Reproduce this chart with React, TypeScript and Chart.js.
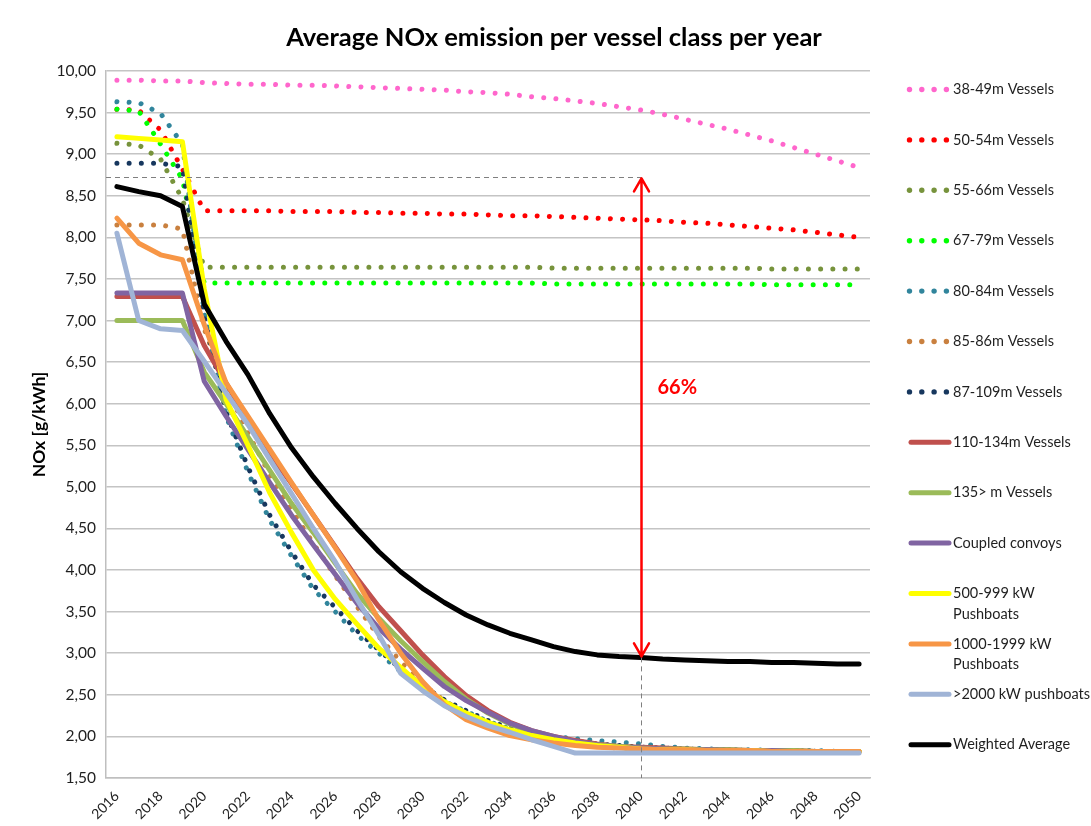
import React, { useEffect, useRef } from 'react';
import { Chart, registerables } from 'chart.js';

Chart.register(...registerables);

const YEARS = [
  '2016', '2017', '2018', '2019', '2020', '2021', '2022', '2023', '2024', '2025',
  '2026', '2027', '2028', '2029', '2030', '2031', '2032', '2033', '2034', '2035',
  '2036', '2037', '2038', '2039', '2040', '2041', '2042', '2043', '2044', '2045',
  '2046', '2047', '2048', '2049', '2050',
];

const TITLE = 'Average NOx emission per vessel class per year';
const Y_TITLE = 'NOx [g/kWh]';
const Y_MIN = 1.5;
const Y_MAX = 10;
const Y_STEP = 0.5;

// Annotation: reference level, year of the arrow and its label
const REF_LEVEL = 8.72;
const REF_YEAR = '2040';
const REDUCTION_LABEL = '66%';

const V_38_49 = [9.89, 9.89, 9.88, 9.88, 9.86, 9.85, 9.84, 9.84, 9.83, 9.83, 9.82, 9.81, 9.80, 9.79, 9.78, 9.77, 9.75, 9.74, 9.72, 9.69, 9.67, 9.64, 9.61, 9.57, 9.53, 9.48, 9.42, 9.36, 9.30, 9.23, 9.16, 9.08, 9.00, 8.92, 8.84];
const V_50_54 = [9.54, 9.53, 9.29, 8.82, 8.32, 8.32, 8.32, 8.32, 8.31, 8.31, 8.31, 8.30, 8.30, 8.29, 8.29, 8.28, 8.28, 8.27, 8.26, 8.26, 8.25, 8.24, 8.23, 8.22, 8.21, 8.20, 8.18, 8.17, 8.15, 8.13, 8.11, 8.09, 8.06, 8.03, 8.00];
const V_55_66 = [9.13, 9.11, 8.94, 8.46, 7.64, 7.64, 7.64, 7.64, 7.64, 7.64, 7.64, 7.64, 7.64, 7.64, 7.64, 7.64, 7.64, 7.64, 7.64, 7.64, 7.63, 7.63, 7.63, 7.63, 7.63, 7.63, 7.63, 7.63, 7.63, 7.63, 7.62, 7.62, 7.62, 7.62, 7.62];
const V_67_79 = [9.54, 9.52, 9.12, 8.70, 7.45, 7.45, 7.45, 7.45, 7.45, 7.45, 7.45, 7.45, 7.45, 7.45, 7.45, 7.45, 7.45, 7.45, 7.45, 7.45, 7.44, 7.44, 7.44, 7.44, 7.44, 7.44, 7.44, 7.44, 7.44, 7.44, 7.43, 7.43, 7.43, 7.43, 7.43];
const V_80_84 = [9.63, 9.62, 9.49, 9.12, 7.10, 5.85, 5.18, 4.60, 4.17, 3.77, 3.50, 3.22, 3.00, 2.78, 2.58, 2.42, 2.30, 2.18, 2.09, 2.04, 2.00, 1.97, 1.95, 1.93, 1.91, 1.88, 1.86, 1.85, 1.84, 1.84, 1.83, 1.83, 1.83, 1.82, 1.82];
const V_85_86 = [8.15, 8.15, 8.15, 8.10, 6.90, 6.20, 5.65, 5.15, 4.72, 4.32, 3.93, 3.56, 3.20, 2.90, 2.63, 2.43, 2.27, 2.15, 2.06, 2.00, 1.95, 1.91, 1.88, 1.86, 1.85, 1.84, 1.84, 1.83, 1.83, 1.83, 1.82, 1.82, 1.82, 1.82, 1.82];
const V_87_109 = [8.89, 8.89, 8.89, 8.85, 7.05, 5.90, 5.24, 4.66, 4.22, 3.82, 3.55, 3.27, 3.04, 2.81, 2.61, 2.44, 2.31, 2.19, 2.10, 2.03, 1.98, 1.94, 1.91, 1.89, 1.87, 1.86, 1.85, 1.84, 1.84, 1.83, 1.83, 1.83, 1.82, 1.82, 1.82];
const V_110_134 = [7.29, 7.29, 7.29, 7.29, 6.70, 6.25, 5.80, 5.40, 5.04, 4.66, 4.28, 3.90, 3.56, 3.27, 2.98, 2.72, 2.49, 2.31, 2.17, 2.07, 2.00, 1.95, 1.91, 1.88, 1.87, 1.86, 1.85, 1.84, 1.84, 1.83, 1.83, 1.83, 1.82, 1.82, 1.82];
const V_135 = [7.00, 7.00, 7.00, 7.00, 6.38, 6.00, 5.60, 5.20, 4.80, 4.45, 4.08, 3.72, 3.42, 3.15, 2.90, 2.66, 2.45, 2.28, 2.15, 2.05, 1.98, 1.93, 1.90, 1.88, 1.86, 1.85, 1.85, 1.84, 1.84, 1.83, 1.83, 1.83, 1.82, 1.82, 1.82];
const V_CONVOYS = [7.33, 7.33, 7.33, 7.33, 6.27, 5.85, 5.45, 5.05, 4.66, 4.30, 3.95, 3.60, 3.30, 3.05, 2.82, 2.60, 2.43, 2.29, 2.16, 2.07, 2.00, 1.94, 1.90, 1.87, 1.86, 1.85, 1.84, 1.84, 1.83, 1.83, 1.83, 1.82, 1.82, 1.82, 1.82];
const V_500_999 = [9.21, 9.19, 9.17, 9.15, 7.38, 6.05, 5.50, 4.93, 4.45, 4.00, 3.65, 3.35, 3.06, 2.83, 2.60, 2.42, 2.28, 2.17, 2.08, 2.01, 1.96, 1.92, 1.89, 1.87, 1.85, 1.84, 1.84, 1.83, 1.83, 1.83, 1.82, 1.82, 1.82, 1.82, 1.82];
const V_1000_1999 = [8.23, 7.93, 7.79, 7.73, 6.95, 6.25, 5.85, 5.45, 5.05, 4.66, 4.27, 3.87, 3.40, 3.00, 2.66, 2.38, 2.20, 2.10, 2.01, 1.96, 1.92, 1.89, 1.87, 1.86, 1.85, 1.84, 1.84, 1.83, 1.83, 1.83, 1.82, 1.82, 1.82, 1.82, 1.82];
const V_2000 = [8.05, 7.00, 6.90, 6.88, 6.51, 6.13, 5.75, 5.33, 4.92, 4.50, 4.10, 3.65, 3.22, 2.76, 2.55, 2.37, 2.24, 2.13, 2.05, 1.96, 1.88, 1.80, 1.80, 1.80, 1.80, 1.80, 1.80, 1.80, 1.80, 1.80, 1.80, 1.80, 1.80, 1.80, 1.80];
const V_WEIGHTED = [8.61, 8.55, 8.50, 8.37, 7.20, 6.75, 6.35, 5.88, 5.47, 5.12, 4.80, 4.50, 4.22, 3.98, 3.78, 3.61, 3.46, 3.34, 3.24, 3.16, 3.08, 3.02, 2.98, 2.96, 2.95, 2.93, 2.92, 2.91, 2.90, 2.90, 2.89, 2.89, 2.88, 2.87, 2.87];

const SERIES_NAMES = [
  '38-49m Vessels', '50-54m Vessels', '55-66m Vessels', '67-79m Vessels', '80-84m Vessels',
  '85-86m Vessels', '87-109m Vessels', '110-134m Vessels', '135> m Vessels', 'Coupled convoys',
  '500-999 kW\nPushboats', '1000-1999 kW\nPushboats', '>2000 kW pushboats', 'Weighted Average',
];
const SERIES_VALUES = [
  V_38_49, V_50_54, V_55_66, V_67_79, V_80_84, V_85_86, V_87_109,
  V_110_134, V_135, V_CONVOYS, V_500_999, V_1000_1999, V_2000, V_WEIGHTED,
];
const SERIES_COLORS = [
  '#FF66CC', '#FF0000', '#77933C', '#00FF00', '#31859C', '#C9803F', '#17375E',
  '#C0504D', '#9BBB59', '#8064A2', '#FFFF00', '#F79646', '#A0B4D6', '#000000',
];
const SERIES_DOTTED = [true, true, true, true, true, true, true, false, false, false, false, false, false, false];

const FONT = 'Lato, "Noto Sans", sans-serif';

const overlayPlugin = {
  id: 'overlay',
  afterDraw(chart: any) {
    const ctx = chart.ctx as CanvasRenderingContext2D;
    const xs = chart.scales.x;
    const ys = chart.scales.y;
    const area = chart.chartArea;
    const idx = YEARS.indexOf(REF_YEAR);
    const ax = Math.round(xs.getPixelForValue(idx)) + 0.5;
    const yTop = ys.getPixelForValue(REF_LEVEL);
    const yBot = ys.getPixelForValue(V_WEIGHTED[idx]);

    ctx.save();
    // dashed guides
    ctx.strokeStyle = '#7F7F7F';
    ctx.lineWidth = 1;
    ctx.setLineDash([5, 4]);
    ctx.beginPath();
    ctx.moveTo(area.left, Math.round(yTop) + 0.5);
    ctx.lineTo(ax, Math.round(yTop) + 0.5);
    ctx.moveTo(ax, yBot);
    ctx.lineTo(ax, area.bottom);
    ctx.stroke();
    ctx.setLineDash([]);

    // double arrow
    ctx.strokeStyle = '#FF0000';
    ctx.lineWidth = 2.5;
    ctx.lineCap = 'round';
    ctx.lineJoin = 'round';
    ctx.beginPath();
    ctx.moveTo(ax, yTop + 1);
    ctx.lineTo(ax, yBot - 1);
    ctx.moveTo(ax - 7.5, yTop + 14);
    ctx.lineTo(ax, yTop + 1);
    ctx.lineTo(ax + 7.5, yTop + 14);
    ctx.moveTo(ax - 7.5, yBot - 14);
    ctx.lineTo(ax, yBot - 1);
    ctx.lineTo(ax + 7.5, yBot - 14);
    ctx.stroke();

    ctx.fillStyle = '#FF0000';
    ctx.font = `bold 20px ${FONT}`;
    ctx.textAlign = 'left';
    ctx.textBaseline = 'middle';
    ctx.fillText(REDUCTION_LABEL, ax + 16, 388);

    // title
    ctx.fillStyle = '#000000';
    ctx.font = `bold 25.5px ${FONT}`;
    ctx.textAlign = 'center';
    ctx.textBaseline = 'middle';
    ctx.fillText(TITLE, 554, 38);

    // legend
    const lx0 = 909;
    const lx1 = 949;
    const startY = 89.5;
    const stepY = 50.4;
    SERIES_NAMES.forEach((name, i) => {
      const y = startY + i * stepY;
      const color = SERIES_COLORS[i];
      if (SERIES_DOTTED[i]) {
        ctx.fillStyle = color;
        for (let k = 0; k < 4; k++) {
          ctx.beginPath();
          ctx.arc(lx0 + 0.5 + k * 12.3, y, 2.7, 0, Math.PI * 2);
          ctx.fill();
        }
      } else {
        ctx.strokeStyle = color;
        ctx.lineWidth = 5;
        ctx.lineCap = 'round';
        ctx.beginPath();
        ctx.moveTo(lx0 + 2, y);
        ctx.lineTo(lx1, y);
        ctx.stroke();
      }
      ctx.fillStyle = '#1F1F1F';
      ctx.font = `14.5px ${FONT}`;
      ctx.textAlign = 'left';
      ctx.textBaseline = 'middle';
      name.split('\n').forEach((line, j) => {
        ctx.fillText(line, 953, y + j * 20.5);
      });
    });
    ctx.restore();
  },
};

export default function App() {
  const canvasRef = useRef<HTMLCanvasElement | null>(null);

  useEffect(() => {
    document.body.style.margin = '0';
    const canvas = canvasRef.current;
    if (!canvas) return;
    const n = SERIES_VALUES.length;
    const datasets = SERIES_VALUES.map((vals, i) => ({
      label: SERIES_NAMES[i].replace('\n', ' '),
      data: vals,
      borderColor: SERIES_COLORS[i],
      backgroundColor: SERIES_COLORS[i],
      borderWidth: 5,
      borderDash: SERIES_DOTTED[i] ? [0.01, 12.2] : [],
      borderCapStyle: 'round' as const,
      borderJoinStyle: 'round' as const,
      pointRadius: 0,
      tension: 0,
      fill: false,
      order: n - i,
    }));

    const chart = new Chart(canvas, {
      type: 'line',
      data: { labels: YEARS, datasets },
      options: {
        responsive: false,
        maintainAspectRatio: false,
        devicePixelRatio: 1,
        animation: false,
        layout: { padding: { left: 0, top: 71, right: 221, bottom: 0 } },
        plugins: {
          legend: { display: false },
          title: { display: false },
          tooltip: { enabled: false },
        },
        scales: {
          x: {
            type: 'category',
            offset: true,
            grid: { display: false },
            border: { display: true, color: '#BFBFBF', width: 1.5 },
            ticks: {
              autoSkip: false,
              maxRotation: 45,
              minRotation: 45,
              padding: 2,
              color: '#1F1F1F',
              font: { family: FONT, size: 14 },
              callback: (_v: any, i: number) => (i % 2 === 0 ? YEARS[i] : ''),
            },
            afterFit: (scale: any) => {
              scale.height = 48;
            },
          },
          y: {
            min: Y_MIN,
            max: Y_MAX,
            grid: { color: '#C4C4C4', lineWidth: 1.5, drawTicks: false },
            border: { display: true, color: '#BFBFBF', width: 1.5 },
            ticks: {
              stepSize: Y_STEP,
              padding: 10,
              color: '#1F1F1F',
              font: { family: FONT, size: 15.5 },
              callback: (v: any) => Number(v).toFixed(2).replace('.', ','),
            },
            title: {
              display: true,
              text: Y_TITLE,
              color: '#000000',
              font: { family: FONT, size: 17.5, weight: 'bold' },
              padding: { top: 29, bottom: 0 },
            },
            afterFit: (scale: any) => {
              scale.width = 106;
            },
          },
        },
      },
      plugins: [overlayPlugin],
    });

    return () => chart.destroy();
  }, []);

  return (
    <div style={{ position: 'absolute', left: 0, top: 0, width: 1091, height: 826, background: '#fff' }}>
      <canvas ref={canvasRef} width={1091} height={826} style={{ display: 'block' }} />
    </div>
  );
}
